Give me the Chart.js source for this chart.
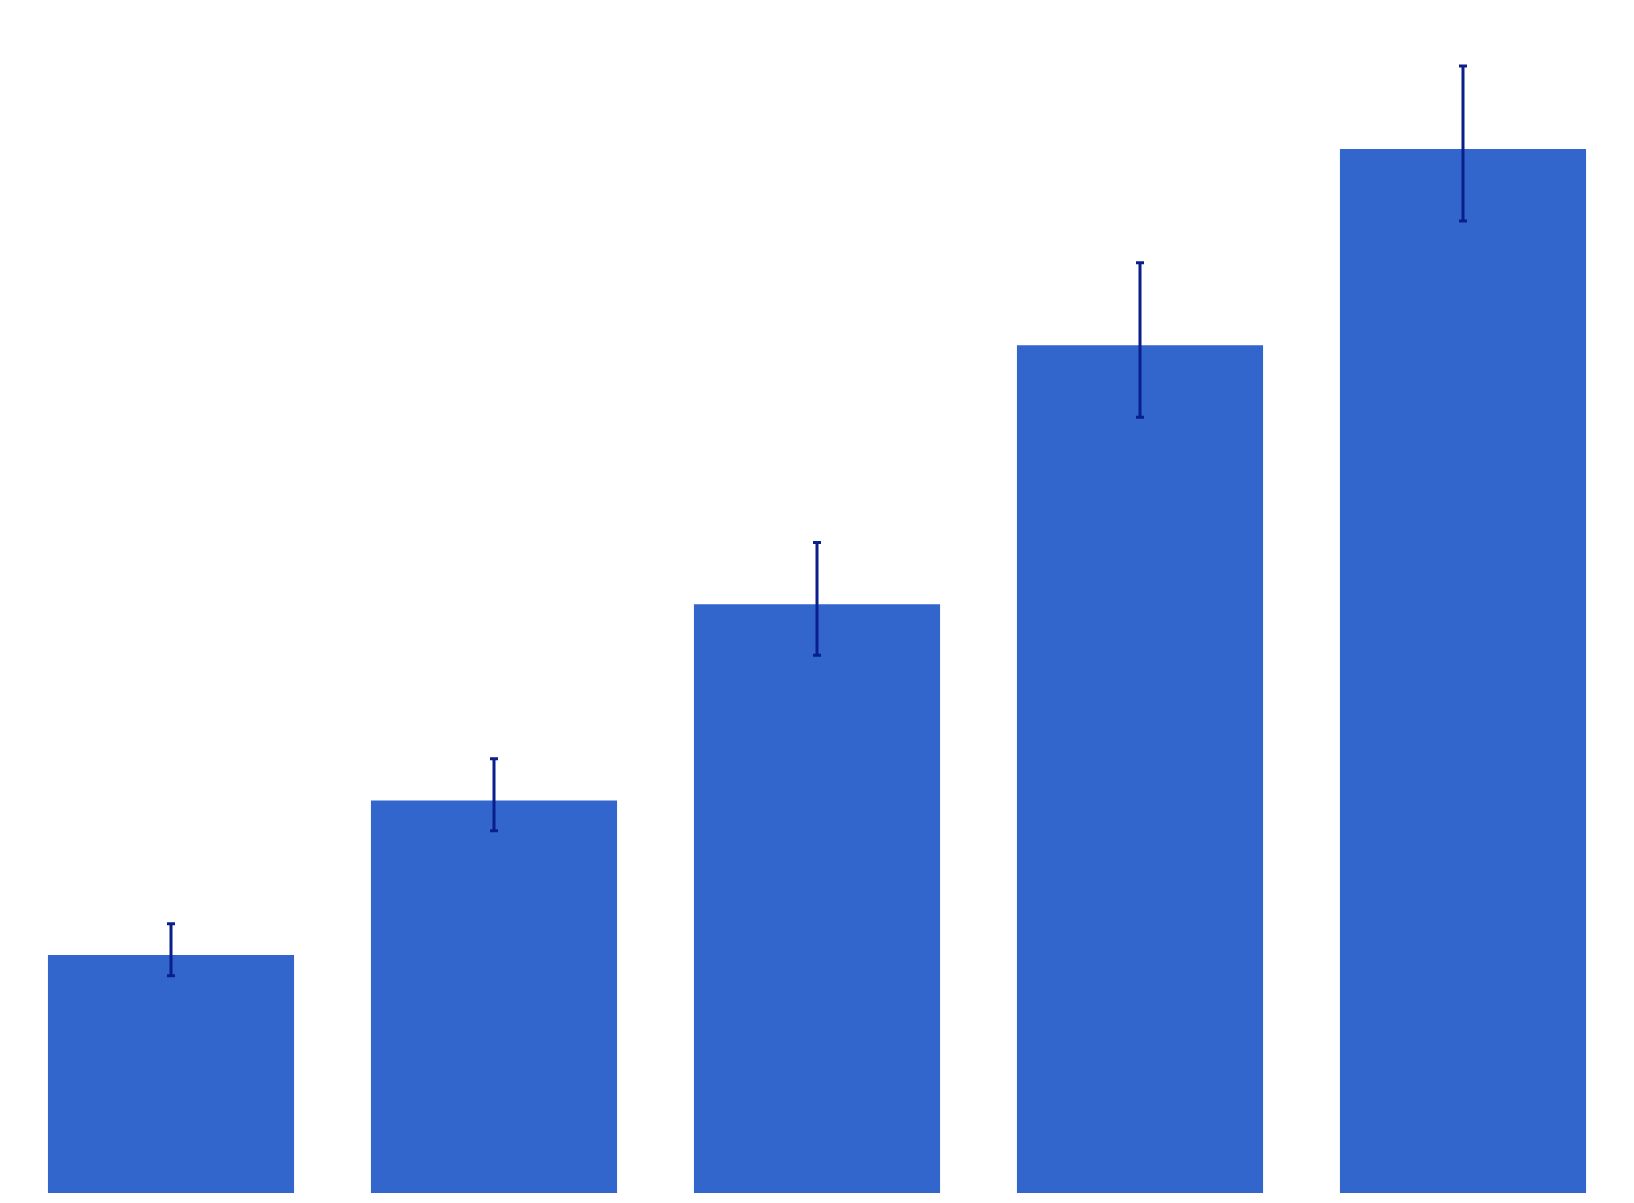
<!DOCTYPE html>
<html>
<head>
<meta charset="utf-8">
<script src="https://cdn.jsdelivr.net/npm/chart.js@4"></script>
<style>
  html, body { margin: 0; padding: 0; background: #ffffff; }
  #wrap { width: 1634px; height: 1203px; }
</style>
</head>
<body>
<div id="wrap"><canvas id="c" width="1634" height="1203"></canvas></div>
<script>
const categories = ['A', 'B', 'C', 'D', 'E'];
const values = [22.8, 37.6, 56.4, 81.2, 100.0];
const errorUp = [3.0, 4.0, 5.9, 7.9, 7.95];
const errorDown = [2.0, 2.9, 4.9, 6.9, 6.9];

const errorBarPlugin = {
  id: 'errorBars',
  afterDatasetsDraw(chart) {
    const ctx = chart.ctx;
    const meta = chart.getDatasetMeta(0);
    const y = chart.scales.y;
    ctx.save();
    ctx.strokeStyle = '#0b1f8c';
    ctx.lineWidth = 3;
    meta.data.forEach((bar, i) => {
      const x = bar.x;
      const top = y.getPixelForValue(values[i] + errorUp[i]);
      const bot = y.getPixelForValue(values[i] - errorDown[i]);
      ctx.beginPath();
      ctx.moveTo(x, top);
      ctx.lineTo(x, bot);
      ctx.moveTo(x - 4, top);
      ctx.lineTo(x + 4, top);
      ctx.moveTo(x - 4, bot);
      ctx.lineTo(x + 4, bot);
      ctx.stroke();
    });
    ctx.restore();
  }
};

new Chart(document.getElementById('c'), {
  type: 'bar',
  data: {
    labels: categories,
    datasets: [{
      data: values,
      backgroundColor: '#3366cc',
      borderWidth: 0,
      barPercentage: 0.762,
      categoryPercentage: 1.0
    }]
  },
  options: {
    responsive: false,
    animation: false,
    layout: { padding: { top: 44.6, bottom: 10, left: 9.5, right: 9.5 } },
    plugins: { legend: { display: false }, tooltip: { enabled: false } },
    scales: {
      x: { display: false },
      y: { display: false, min: 0, max: 110 }
    }
  },
  plugins: [errorBarPlugin]
});
</script>
</body>
</html>
